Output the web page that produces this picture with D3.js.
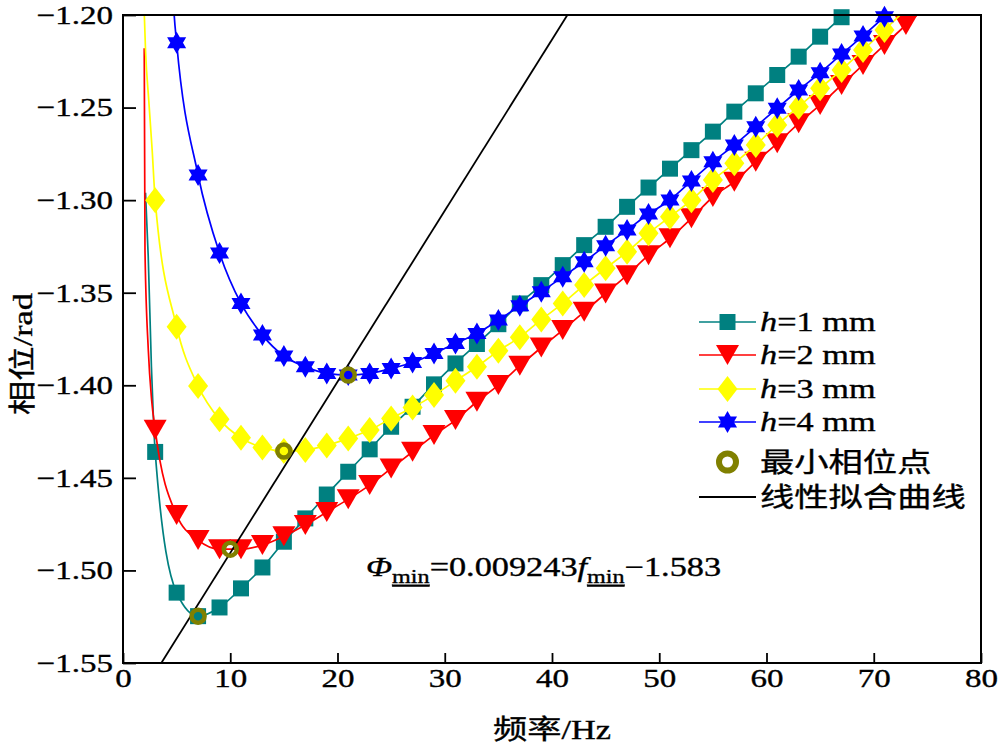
<!DOCTYPE html>
<html><head><meta charset="utf-8">
<script src="https://cdn.jsdelivr.net/npm/d3@7"></script>
<style>
body{margin:0;background:#fff}
svg{display:block}
text{font-family:"Liberation Serif","Times New Roman","Noto Sans CJK SC",serif;fill:#000;stroke:#000;stroke-width:0.35px}
</style>
</head><body>
<svg id="chart" width="1000" height="746"></svg>
<script>
// ---------------- data ----------------
const freqs = [3,5,7,9,11,13,15,17,19,21,23,25,27,29,31,33,35,37,39,41,43,45,47,49,51,53,55,57,59,61,63,65,67,69,71,73,75];
const phaseH1 = [-1.436,-1.512,-1.5247,-1.520,-1.5097,-1.4984,-1.4845,-1.4719,-1.4590,-1.4467,-1.4346,-1.4224,-1.4116,-1.3995,-1.3882,-1.3777,-1.3670,-1.3558,-1.3459,-1.3351,-1.3243,-1.3144,-1.3036,-1.2932,-1.2830,-1.2730,-1.2630,-1.2522,-1.2423,-1.2324,-1.2225,-1.2117,-1.2012,-1.1910,null,null,null];
const phaseH2 = [-1.424,-1.4701,-1.4836,-1.4885,-1.4885,-1.4863,-1.4815,-1.4755,-1.4685,-1.4615,-1.4539,-1.4449,-1.4359,-1.4269,-1.4188,-1.4089,-1.3999,-1.3895,-1.3796,-1.3702,-1.3603,-1.3504,-1.3405,-1.3297,-1.3206,-1.3098,-1.2983,-1.2900,-1.2793,-1.2693,-1.2585,-1.2486,-1.2378,-1.2270,-1.2162,-1.2054,-1.1950];
const phaseH3 = [-1.300,-1.3684,-1.4004,-1.4184,-1.4284,-1.4336,-1.4355,-1.4350,-1.4325,-1.4287,-1.4242,-1.4179,-1.4120,-1.4053,-1.3976,-1.3900,-1.3814,-1.3740,-1.3645,-1.3558,-1.3459,-1.3368,-1.3279,-1.3179,-1.3090,-1.3000,-1.2891,-1.2801,-1.2702,-1.2594,-1.2495,-1.2396,-1.2297,-1.2189,-1.2081,-1.1970,null];
const phaseH4 = [null,-1.215,-1.2864,-1.3286,-1.3558,-1.3729,-1.3842,-1.3900,-1.3936,-1.3945,-1.3936,-1.3910,-1.3877,-1.3828,-1.3774,-1.3720,-1.3648,-1.3570,-1.3495,-1.3414,-1.3333,-1.3246,-1.3161,-1.3075,-1.2999,-1.2896,-1.2793,-1.2702,-1.2603,-1.2504,-1.2405,-1.2312,-1.2211,-1.2113,-1.2009,-1.1900,null];
// steep starting portion of each curve (frequency, phase), before the first marker
const headH1 = [[2.1,-1.296],[2.35,-1.330],[2.65,-1.390],[2.85,-1.420]];
const headH2 = [[1.98,-1.218],[2.05,-1.327],[2.36,-1.381],[2.67,-1.408]];
const headH3 = [[1.96,-1.195],[2.1,-1.219],[2.4,-1.246],[2.72,-1.273]];
const headH4 = [[4.3,-1.130],[4.75,-1.198]];
const minFreq = [7,10,15,21];
const minPhase = [-1.5247,-1.4885,-1.4355,-1.3945];
const fitSlope = 0.009243, fitIntercept = -1.583;
const xTicks = [0,10,20,30,40,50,60,70,80];
const yTicks = [-1.55,-1.50,-1.45,-1.40,-1.35,-1.30,-1.25,-1.20];
const seriesNames = ["=1 mm","=2 mm","=3 mm","=4 mm"];
const seriesColors = ["#008080","#ff0000","#ffff00","#0000ff"];
const minColor = "#808000";

// ---------------- layout ----------------
const SX = 1.27; // horizontal text stretch
const svg = d3.select("#chart");
const L = 123, R = 981, T = 15, B = 663;
const x = d3.scaleLinear().domain([0,80]).range([L,R]);
const y = d3.scaleLinear().domain([-1.55,-1.20]).range([B,T]);

svg.append("defs").append("clipPath").attr("id","plotClip")
  .append("rect").attr("x",L).attr("y",T).attr("width",R-L).attr("height",B-T);

// marker shapes (centered on bounding box)
function markerPath(kind){
  if(kind===0) return "M-8,-8H8V8H-8Z";
  if(kind===1) return "M-11.5,-10L11.5,-10L0,10Z";
  if(kind===2) return "M0,-13L10,0L0,13L-10,0Z";
  // hexagram
  const r = 11; let p = "";
  [[-90,30,150],[90,210,330]].forEach(tri=>{
    p += tri.map((a,i)=>(i?"L":"M")+(r*Math.cos(a*Math.PI/180)).toFixed(2)+","+(r*Math.sin(a*Math.PI/180)).toFixed(2)).join("")+"Z";
  });
  return p;
}

const allSeries = [phaseH1,phaseH2,phaseH3,phaseH4];
const heads = [headH1,headH2,headH3,headH4];

const plot = svg.append("g");
const lineGen = d3.line().x(d=>x(d[0])).y(d=>y(d[1])).curve(d3.curveMonotoneX);

allSeries.forEach((vals,si)=>{
  const pts = heads[si].concat(freqs.map((f,i)=>[f,vals[i]]).filter(d=>d[1]!==null));
  const g = plot.append("g");
  g.append("path").attr("clip-path","url(#plotClip)").attr("d",lineGen(pts))
    .attr("fill","none").attr("stroke",seriesColors[si]).attr("stroke-width",1.7);
  const mk = freqs.map((f,i)=>[f,vals[i]]).filter(d=>d[1]!==null && d[1]>=-1.5501 && d[1]<=-1.1999);
  g.selectAll("path.m").data(mk).enter().append("path").attr("class","m")
    .attr("d",markerPath(si)).attr("transform",d=>`translate(${x(d[0])},${y(d[1])})`)
    .attr("fill",seriesColors[si]);
});

// linear fit line
plot.append("path").attr("clip-path","url(#plotClip)")
  .attr("d",d3.line()([[x(0),y(fitIntercept)],[x(80),y(fitIntercept+fitSlope*80)]]))
  .attr("stroke","#000").attr("stroke-width",1.8).attr("fill","none");

// minimum phase points
plot.selectAll("circle.min").data(minFreq.map((f,i)=>[f,minPhase[i]])).enter().append("circle")
  .attr("cx",d=>x(d[0])).attr("cy",d=>y(d[1])).attr("r",6.5)
  .attr("fill","none").attr("stroke",minColor).attr("stroke-width",4.5);

// ---------------- axes ----------------
const gx = svg.append("g").attr("transform",`translate(0,${B})`)
  .call(d3.axisBottom(x).tickValues(xTicks).tickSizeInner(-10).tickSizeOuter(0).tickPadding(6).tickFormat(d3.format("d")));
gx.select(".domain").remove();
gx.selectAll(".tick line").attr("stroke","#000").attr("stroke-width",1.8);
gx.selectAll(".tick text").attr("font-size",26).attr("font-family",null).attr("fill","#000")
  .attr("transform",`scale(${SX},1)`);

const gy = svg.append("g").attr("transform",`translate(${L},0)`)
  .call(d3.axisLeft(y).tickValues(yTicks).tickSizeInner(-13).tickSizeOuter(0).tickPadding(10).tickFormat(d3.format(".2f")));
gy.select(".domain").remove();
gy.selectAll(".tick line").attr("stroke","#000").attr("stroke-width",1.8);
gy.selectAll(".tick text").attr("font-size",26).attr("font-family",null).attr("fill","#000")
  .attr("x",-10/SX).attr("transform",`scale(${SX},1)`);

// frame
svg.append("rect").attr("x",L).attr("y",T).attr("width",R-L).attr("height",B-T)
  .attr("fill","none").attr("stroke","#000").attr("stroke-width",2);

// axis titles
function stretchedText(xp,yp,anchor,size,rot){
  const g = svg.append("g").attr("transform",`translate(${xp},${yp})`+(rot?` rotate(${rot})`:"")+` scale(${SX},1)`);
  return g.append("text").attr("text-anchor",anchor).attr("font-size",size);
}
stretchedText(552,739,"middle",27).text("频率/Hz");
stretchedText(32,354,"middle",27,-90).text("相位/rad");

// equation
const eq = stretchedText(366,576,"start",27);
eq.append("tspan").attr("font-style","italic").text("Φ");
eq.append("tspan").attr("font-size",19).attr("dy",7).attr("text-decoration","underline").text("min");
eq.append("tspan").attr("dy",-7).text("=0.009243");
eq.append("tspan").attr("font-style","italic").text("f");
eq.append("tspan").attr("font-size",19).attr("dy",7).attr("text-decoration","underline").text("min");
eq.append("tspan").attr("dy",-7).text("−1.583");

// ---------------- legend ----------------
const legRows = [322,355,389,422];
const lg = svg.append("g");
seriesNames.forEach((nm,si)=>{
  const yy = legRows[si];
  lg.append("line").attr("x1",699).attr("x2",756).attr("y1",yy).attr("y2",yy)
    .attr("stroke",seriesColors[si]).attr("stroke-width",1.7);
  lg.append("path").attr("d",markerPath(si)).attr("transform",`translate(727.5,${yy})`).attr("fill",seriesColors[si]);
  const t = stretchedText(760,yy+9,"start",27);
  t.append("tspan").attr("font-style","italic").text("h");
  t.append("tspan").text(nm);
});
lg.append("circle").attr("cx",727.5).attr("cy",462).attr("r",8.5).attr("fill","none")
  .attr("stroke",minColor).attr("stroke-width",6);
stretchedText(760,472,"start",27).text("最小相位点");
lg.append("line").attr("x1",699).attr("x2",756).attr("y1",497).attr("y2",497)
  .attr("stroke","#000").attr("stroke-width",1.8);
stretchedText(760,507,"start",27).text("线性拟合曲线");
</script>
</body></html>
